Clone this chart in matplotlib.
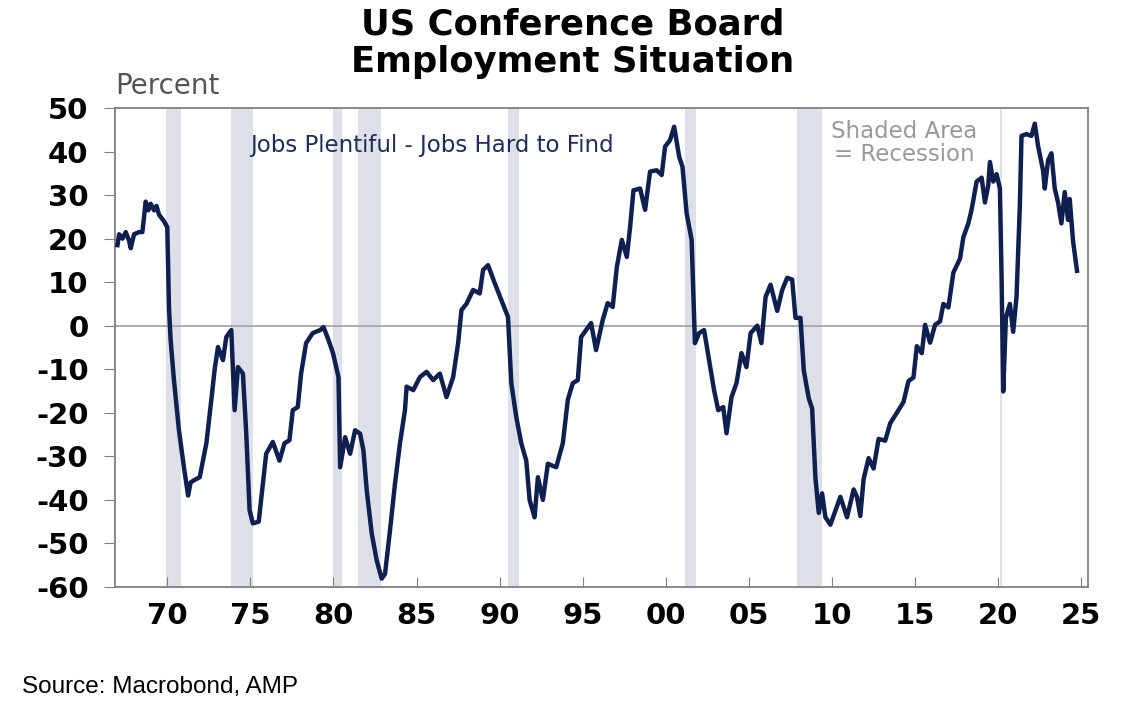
import matplotlib.pyplot as plt

# Conference Board labour differential (jobs plentiful - jobs hard to find)
years = [1967.0, 1967.1, 1967.3, 1967.5, 1967.7, 1967.8, 1968.0, 1968.3, 1968.5, 1968.6,
         1968.7, 1968.85, 1969.0, 1969.2, 1969.35, 1969.5, 1969.8, 1970.0, 1970.1, 1970.2,
         1970.4, 1970.7, 1971.0, 1971.25, 1971.4, 1971.6, 1971.95, 1972.35, 1972.65, 1972.85,
         1973.05, 1973.35, 1973.55, 1973.85, 1974.05, 1974.25, 1974.55, 1974.75, 1974.95, 1975.15,
         1975.5, 1975.75, 1975.95, 1976.35, 1976.75, 1977.05, 1977.35, 1977.55, 1977.85, 1978.05,
         1978.35, 1978.75, 1979.2, 1979.4, 1979.7, 1979.97, 1980.3, 1980.4, 1980.7, 1981.0,
         1981.3, 1981.6, 1981.8, 1982.0, 1982.3, 1982.6, 1982.9, 1983.1, 1983.4, 1983.7,
         1984.0, 1984.3, 1984.4, 1984.8, 1985.2, 1985.6, 1986.0, 1986.4, 1986.8, 1987.2,
         1987.5, 1987.7, 1988.0, 1988.4, 1988.8, 1989.0, 1989.3, 1989.7, 1990.1, 1990.5,
         1990.7, 1991.0, 1991.3, 1991.6, 1991.8, 1992.1, 1992.3, 1992.6, 1992.9, 1993.4,
         1993.8, 1994.1, 1994.4, 1994.7, 1994.9, 1995.2, 1995.5, 1995.8, 1996.2, 1996.5,
         1996.8, 1997.05, 1997.35, 1997.65, 1997.85, 1998.05, 1998.45, 1998.75, 1999.05, 1999.45,
         1999.75, 1999.95, 2000.25, 2000.5, 2000.8, 2001.0, 2001.25, 2001.55, 2001.75, 2002.0,
         2002.3, 2002.6, 2002.9, 2003.15, 2003.45, 2003.65, 2003.95, 2004.25, 2004.55, 2004.85,
         2005.1, 2005.5, 2005.75, 2006.0, 2006.3, 2006.7, 2007.0, 2007.3, 2007.6, 2007.8,
         2008.1, 2008.3, 2008.6, 2008.8, 2009.0, 2009.2, 2009.4, 2009.6, 2009.9, 2010.2,
         2010.5, 2010.9, 2011.3, 2011.5, 2011.7, 2011.9, 2012.2, 2012.5, 2012.8, 2013.2,
         2013.5, 2013.9, 2014.3, 2014.6, 2014.9, 2015.1, 2015.4, 2015.6, 2015.9, 2016.2,
         2016.5, 2016.7, 2017.0, 2017.3, 2017.7, 2017.9, 2018.2, 2018.4, 2018.7, 2019.0,
         2019.2, 2019.4, 2019.5, 2019.7, 2019.9, 2020.1, 2020.2, 2020.3, 2020.46, 2020.7,
         2020.9, 2021.1, 2021.3, 2021.4, 2021.7, 2022.0, 2022.2, 2022.4, 2022.7, 2022.8,
         2023.0, 2023.2, 2023.4, 2023.6, 2023.8, 2024.0, 2024.2, 2024.3, 2024.5, 2024.74]
values = [18.5, 21.0, 20.0, 21.5, 19.5, 17.8, 21.0, 21.5, 21.5, 25.0,
          28.5, 26.5, 28.0, 26.5, 27.5, 25.5, 24.0, 22.6, 4.3, -3.3,
          -12.5, -24.0, -32.5, -39.0, -36.0, -35.5, -34.8, -27.0, -17.0, -10.0,
          -4.9, -7.9, -2.6, -1.0, -19.4, -9.5, -11.0, -24.7, -42.4, -45.4,
          -45.0, -36.3, -29.4, -26.7, -31.0, -27.0, -26.3, -19.4, -18.7, -11.0,
          -4.0, -1.7, -1.0, -0.3, -3.3, -6.3, -11.8, -32.5, -25.6, -29.4,
          -24.0, -24.8, -28.6, -37.8, -47.7, -53.9, -58.1, -57.0, -47.0, -36.3,
          -27.0, -19.4, -14.0, -14.8, -11.8, -10.6, -12.5, -11.0, -16.4, -11.8,
          -4.0, 3.6, 5.0, 8.2, 7.4, 12.8, 13.9, 9.8, 5.9, 2.0,
          -13.2, -21.0, -27.0, -31.0, -40.0, -44.0, -34.8, -40.0, -31.7, -32.5,
          -27.0, -17.0, -13.2, -12.5, -2.6, -1.0, 0.6, -5.6, 1.3, 5.2,
          4.3, 13.5, 19.7, 15.8, 22.7, 31.1, 31.5, 26.6, 35.4, 35.7,
          34.6, 41.1, 42.6, 45.7, 38.8, 36.5, 25.8, 19.7, -4.0, -1.7,
          -1.0, -7.9, -14.8, -19.4, -18.7, -24.7, -16.4, -13.2, -6.3, -9.5,
          -1.7, 0.0, -4.0, 6.6, 9.4, 3.4, 8.2, 11.0, 10.6, 1.8,
          1.8, -10.3, -16.7, -19.0, -35.0, -43.0, -38.5, -44.0, -45.7, -42.5,
          -39.3, -44.0, -37.6, -39.3, -43.7, -35.2, -30.4, -32.8, -26.0, -26.4,
          -22.4, -20.0, -17.5, -12.7, -11.9, -4.7, -6.3, 0.2, -3.9, 0.2,
          1.0, 5.0, 4.2, 12.2, 15.4, 20.3, 23.5, 26.7, 33.1, 34.0,
          28.3, 32.3, 37.6, 33.1, 34.8, 31.5, 11.4, -15.1, 1.8, 5.0,
          -1.4, 6.6, 27.5, 43.6, 44.0, 43.6, 46.4, 41.2, 35.6, 31.5,
          38.0, 39.6, 31.5, 28.3, 23.5, 30.7, 24.3, 29.1, 19.5, 12.6]

# NBER recessions (start, end)
rec_start = [1969.92, 1973.83, 1980.0, 1981.5, 1990.5, 2001.17, 2007.92, 2020.08]
rec_end = [1970.83, 1975.17, 1980.5, 1982.83, 1991.17, 2001.83, 2009.42, 2020.25]

xticks = [1970, 1975, 1980, 1985, 1990, 1995, 2000, 2005, 2010, 2015, 2020, 2025]
xlabels = ['70', '75', '80', '85', '90', '95', '00', '05', '10', '15', '20', '25']
yticks = [-60, -50, -40, -30, -20, -10, 0, 10, 20, 30, 40, 50]

plt.rcParams['font.family'] = ['DejaVu Sans']
plt.rcParams['axes.unicode_minus'] = False

fig = plt.figure(figsize=(11.45, 7.18), dpi=100)
ax = fig.add_axes([0.1004, 0.1825, 0.8498, 0.6671])

for s, e in zip(rec_start, rec_end):
    ax.axvspan(s, e, color='#dde0e8', lw=0, zorder=0)

ax.axhline(0, color='#a6a6a6', lw=1.3, zorder=1)
ax.plot(years, values, color='#0f2050', lw=3.2, zorder=3)

ax.set_xlim(1966.85, 2025.4)
ax.set_ylim(-60, 50)
ax.set_xticks(xticks)
ax.set_xticklabels(xlabels)
ax.set_yticks(yticks)
for lab in ax.get_xticklabels() + ax.get_yticklabels():
    lab.set_fontweight('bold')
    lab.set_fontsize(21)
ax.tick_params(axis='x', direction='in', length=7, color='#808080', pad=11)
ax.tick_params(axis='y', direction='out', length=8, color='#808080', pad=11)
for sp in ax.spines.values():
    sp.set_color('#808080')
    sp.set_linewidth(1.3)

# title, two lines
fig.text(0.5, 0.952, 'US Conference Board', ha='center', va='baseline',
         fontsize=25.5, fontweight='bold')
fig.text(0.5, 0.900, 'Employment Situation', ha='center', va='baseline',
         fontsize=25.5, fontweight='bold')
fig.text(0.1004, 0.8694, 'Percent', ha='left', va='baseline', fontsize=20, color='#555555')
fig.text(0.2183, 0.7883, 'Jobs Plentiful - Jobs Hard to Find', ha='left', va='baseline',
         fontsize=16.5, color='#1f2d5a')
fig.text(0.7895, 0.8078, 'Shaded Area', ha='center', va='baseline', fontsize=16.5, color='#999999')
fig.text(0.7895, 0.7758, '= Recession', ha='center', va='baseline', fontsize=16.5, color='#999999')
fig.text(0.019, 0.0348, 'Source: Macrobond, AMP', ha='left', va='baseline', fontsize=17.5,
         family=['Liberation Sans', 'DejaVu Sans'])

plt.savefig('out.png', dpi=100)
